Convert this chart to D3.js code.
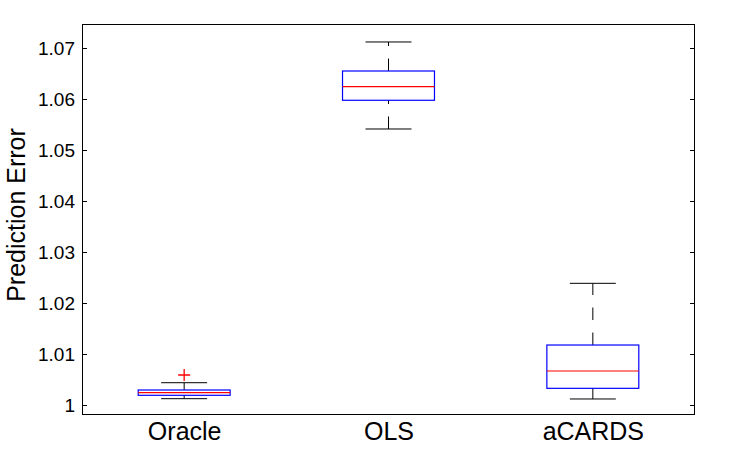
<!DOCTYPE html>
<html>
<head>
<meta charset="utf-8">
<script src="https://cdn.jsdelivr.net/npm/d3@7"></script>
<style>
  html, body { margin: 0; padding: 0; background: #fff; }
  svg { display: block; }
  text { font-family: "Liberation Sans", Arial, Helvetica, sans-serif; fill: #000; }
</style>
</head>
<body>
<svg id="chart" width="747" height="449"></svg>
<script>
// ---- Data ----
const categories = ["Oracle", "OLS", "aCARDS"];
const whiskerLow  = [1.00124, 1.05412, 1.00118];
const quartile1   = [1.00190, 1.05975, 1.00327];
const medians     = [1.00241, 1.06241, 1.00667];
const quartile3   = [1.00294, 1.06549, 1.01176];
const whiskerHigh = [1.00437, 1.07118, 1.02386];
const outliers    = [[1.00588], [], []];
const yTicks      = [1, 1.01, 1.02, 1.03, 1.04, 1.05, 1.06, 1.07];
const yTickLabels = ["1", "1.01", "1.02", "1.03", "1.04", "1.05", "1.06", "1.07"];

const data = categories.map((c, i) => ({
  name: c, lo: whiskerLow[i], q1: quartile1[i], med: medians[i],
  q3: quartile3[i], hi: whiskerHigh[i], out: outliers[i]
}));

const svg = d3.select("#chart");
const L = 82, R = 695, T = 24, B = 415;

const x = d3.scaleLinear().domain([0.5, 3.5]).range([L, R]);
const y = d3.scaleLinear().domain([0.998039, 1.074706]).range([B, T]);

const boxW = 0.45, capW = 0.225;

// axes with inside ticks
const yAxisL = d3.axisLeft(y).tickValues(yTicks).tickFormat((d, i) => yTickLabels[i])
  .tickSizeInner(-5).tickSizeOuter(0).tickPadding(7);
const gL = svg.append("g").attr("transform", `translate(${L},0)`).call(yAxisL);
gL.select(".domain").remove();
gL.selectAll(".tick line").attr("stroke", "#000");
gL.selectAll(".tick text").style("font-size", "19px").attr("fill", "#000");

const yAxisR = d3.axisRight(y).tickValues(yTicks).tickFormat("")
  .tickSizeInner(-5).tickSizeOuter(0);
const gR = svg.append("g").attr("transform", `translate(${R},0)`).call(yAxisR);
gR.select(".domain").remove();
gR.selectAll(".tick line").attr("stroke", "#000");

// frame
svg.append("rect").attr("x", L + 0.5).attr("y", T + 0.5)
  .attr("width", R - L - 1).attr("height", B - T - 1)
  .attr("fill", "none").attr("stroke", "#000").attr("stroke-width", 1);

// category labels
const xAxis = d3.axisBottom(x).tickValues([1, 2, 3]).tickFormat((d, i) => categories[i])
  .tickSize(0).tickPadding(7);
const gX = svg.append("g").attr("transform", `translate(0,${B})`).call(xAxis);
gX.select(".domain").remove();
gX.selectAll(".tick text").style("font-size", "25px").attr("fill", "#000");

// y label
svg.append("text")
  .attr("transform", `translate(25,215) rotate(-90)`)
  .attr("text-anchor", "middle")
  .style("font-size", "25px")
  .text("Prediction Error");

// boxes
const g = svg.append("g");
data.forEach((d, i) => {
  const cx = x(i + 1);
  const half = (x(1 + boxW / 2) - x(1));
  const capHalf = (x(1 + capW / 2) - x(1));
  // whiskers (drawn from lower value upward)
  g.append("line").attr("x1", cx).attr("x2", cx).attr("y1", y(d.lo)).attr("y2", y(d.q1))
    .attr("stroke", "#000").attr("stroke-dasharray", "12.5,12.5");
  g.append("line").attr("x1", cx).attr("x2", cx).attr("y1", y(d.q3)).attr("y2", y(d.hi))
    .attr("stroke", "#000").attr("stroke-dasharray", "12.5,12.5");
  // caps
  [d.lo, d.hi].forEach(v => {
    g.append("line").attr("x1", cx - capHalf).attr("x2", cx + capHalf)
      .attr("y1", y(v)).attr("y2", y(v)).attr("stroke", "#000");
  });
  // box
  g.append("rect").attr("x", cx - half).attr("width", 2 * half)
    .attr("y", y(d.q3)).attr("height", y(d.q1) - y(d.q3))
    .attr("fill", "none").attr("stroke", "#0000ff").attr("stroke-width", 1.2);
  // median
  g.append("line").attr("x1", cx - half).attr("x2", cx + half)
    .attr("y1", y(d.med)).attr("y2", y(d.med)).attr("stroke", "#ff0000").attr("stroke-width", 1.2);
  // outliers
  d.out.forEach(v => {
    const py = y(v);
    g.append("path").attr("d", `M${cx - 6},${py}H${cx + 6}M${cx},${py - 6}V${py + 6}`)
      .attr("stroke", "#ff0000").attr("stroke-width", 1.3).attr("fill", "none");
  });
});
</script>
</body>
</html>
